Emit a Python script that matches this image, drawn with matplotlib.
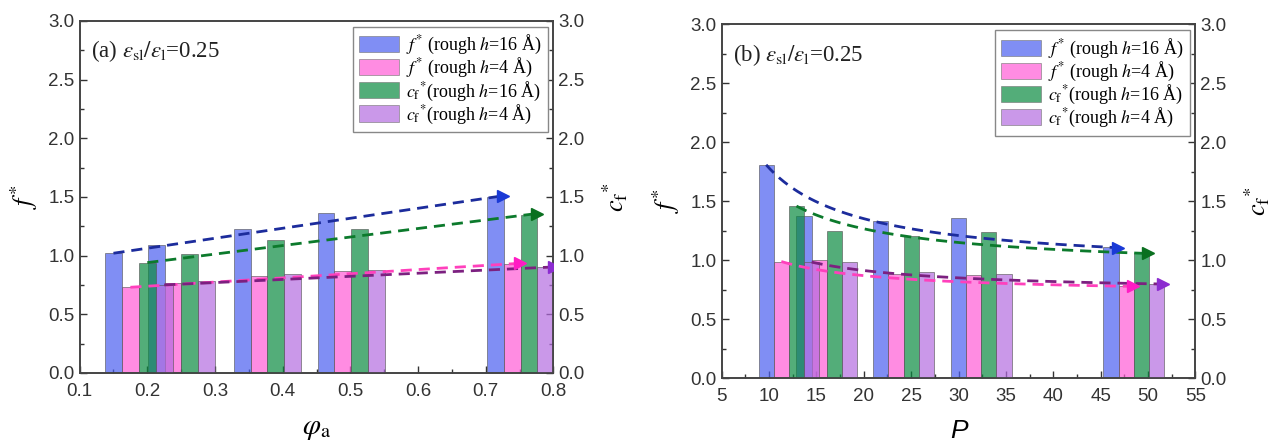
import matplotlib
matplotlib.use('Agg')
import matplotlib.pyplot as plt
import numpy as np
from matplotlib.ticker import MultipleLocator, FormatStrFormatter
from matplotlib.patches import Patch

plt.rcParams['font.family'] = ['Liberation Sans', 'DejaVu Sans']
plt.rcParams['mathtext.fontset'] = 'stix'

# ---- data: panel (a), phi_a ----
phi_a = [0.15, 0.213, 0.34, 0.464, 0.714]
a_f16 = [1.02, 1.09, 1.23, 1.36, 1.50]
a_f4 = [0.73, 0.77, 0.83, 0.87, 0.93]
a_c16 = [0.94, 1.01, 1.13, 1.23, 1.35]
a_c4 = [0.75, 0.78, 0.84, 0.88, 0.90]

# ---- data: panel (b), P ----
P_vals = [9.7, 13.7, 21.8, 30.0, 46.1]
b_f16 = [1.81, 1.38, 1.33, 1.36, 1.11]
b_f4 = [0.99, 1.00, 0.88, 0.875, 0.78]
b_c16 = [1.46, 1.25, 1.21, 1.24, 1.06]
b_c4 = [0.985, 0.985, 0.90, 0.88, 0.80]

labels = [r'$f^{*}$ (rough $h$=16 Å)', r'$f^{*}$ (rough $h$=4 Å)',
          r'$c_{\rm f}{}^{*}$(rough $h$=16 Å)', r'$c_{\rm f}{}^{*}$(rough $h$=4 Å)']

# order: f* h=16, f* h=4, cf* h=16, cf* h=4
BAR_COLORS = ['#4a5ef0', '#ff5cd6', '#0a8a40', '#b46ce0']
LINE_COLORS = ['#1c2c9c', '#ff40bc', '#0c7a2c', '#7c2080']
ARROW_COLORS = ['#1a3ad6', '#ff1cc4', '#0a7020', '#8c2cd0']
SERIF = ['Liberation Serif', 'DejaVu Serif']


def guide(x, y, kind):
    # guide-to-eye curve through the first and last bar tops
    x0, x1, y0, y1 = x[0], x[-1], y[0], y[-1]
    if kind == 'lin':
        return lambda t: y0 + (y1 - y0) * (t - x0) / (x1 - x0)
    b = (y0 - y1) / (1 / x0 - 1 / x1)
    a = y1 - b / x1
    return lambda t: a + b / t


def draw_panel(rect, xpos, series, width, kind, xlim, xmajor, xlabel, xlabel_kw, tag):
    ax = fig.add_axes(rect)
    ax2 = ax.twinx()
    xpos = np.asarray(xpos)
    handles = []
    for i, ys in enumerate(series):
        target = ax if i < 2 else ax2  # f* on left axis, c_f* on right axis
        xs = xpos + i * width
        target.bar(xs, ys, width=width, color=BAR_COLORS[i], alpha=0.7,
                   edgecolor='#555555', linewidth=0.6, zorder=2)
        handles.append(Patch(facecolor=BAR_COLORS[i], alpha=0.7, edgecolor='#777777',
                             linewidth=0.6, label=labels[i]))
    # dashed guides (on the twin axis so they sit above all bars; same 0-3 scale)
    for i, ys in enumerate(series):
        xs = xpos + i * width
        f = guide(xs, ys, kind)
        tx = np.linspace(xs[0], xs[-1] + 0.45 * width, 80)
        ax2.plot(tx, f(tx), ls=(0, (4, 2.5)), lw=2, color=LINE_COLORS[i], zorder=5)
        ax2.plot(tx[-1], f(tx[-1]), marker='>', ms=9, color=ARROW_COLORS[i], zorder=6)

    for a in (ax, ax2):
        a.set_ylim(0, 3.0)
        a.yaxis.set_major_locator(MultipleLocator(0.5))
        a.yaxis.set_minor_locator(MultipleLocator(0.25))
        a.yaxis.set_major_formatter(FormatStrFormatter('%.1f'))
        a.tick_params(which='both', direction='in', labelsize=13.5, colors='#333333')
        a.tick_params(which='major', length=5, width=1)
        a.tick_params(which='minor', length=3, width=1)
        for s in a.spines.values():
            s.set_color('#444444')
            s.set_linewidth(1.2)
    ax.set_xlim(*xlim)
    ax.xaxis.set_major_locator(MultipleLocator(xmajor))
    ax.xaxis.set_minor_locator(MultipleLocator(xmajor / 2))
    ax.tick_params(axis='x', pad=7)
    ax.tick_params(axis='y', right=False)
    ax2.tick_params(axis='y', left=False)

    ax.set_ylabel(r'$f^{*}$', fontsize=19, labelpad=6)
    ax2.set_ylabel(r'$c_{\rm f}{}^{*}$', fontsize=19, rotation=90, labelpad=12)
    ax.set_xlabel(xlabel, labelpad=10, **xlabel_kw)

    ax.text(0.025, 0.915, tag + r' $\varepsilon_{\rm sl}/\varepsilon_{\rm l}$=0.25',
            transform=ax.transAxes, fontsize=16.5, family=SERIF, va='center', color='#222222')

    leg = ax2.legend(handles=handles, loc='upper right', bbox_to_anchor=(0.988, 0.983),
                     fancybox=False, edgecolor='#888888', framealpha=1,
                     prop={'family': SERIF, 'size': 13},
                     handlelength=2.2, handleheight=1.0, handletextpad=0.4,
                     labelspacing=0.0, borderpad=0.35, borderaxespad=0.0)
    leg.get_frame().set_linewidth(1.0)
    return ax, ax2


fig = plt.figure(figsize=(12.84, 4.45), dpi=100)

draw_panel([0.062, 0.162, 0.369, 0.791], phi_a, [a_f16, a_f4, a_c16, a_c4],
           0.025, 'lin', (0.1, 0.8), 0.1, r'$\varphi_{\rm a}$', {'fontsize': 21}, '(a)')
draw_panel([0.562, 0.150, 0.369, 0.795], P_vals, [b_f16, b_f4, b_c16, b_c4],
           1.6, 'inv', (5, 55), 5, 'P', {'fontsize': 19, 'fontstyle': 'italic'}, '(b)')

fig.savefig('out.png', dpi=100, facecolor='white')
